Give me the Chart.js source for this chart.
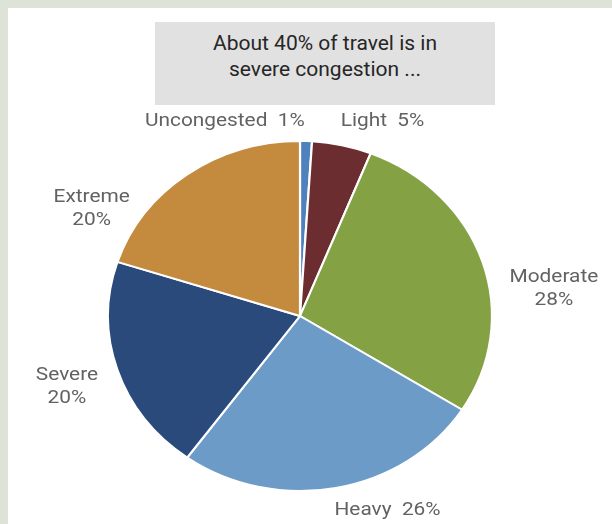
<!DOCTYPE html>
<html>
<head>
<meta charset="utf-8">
<script src="https://cdn.jsdelivr.net/npm/chart.js@4.4.1/dist/chart.umd.min.js"></script>
<style>
  html, body { margin: 0; padding: 0; width: 612px; height: 524px; overflow: hidden; background: #dde3d6; }
  #panel { position: absolute; left: 8px; top: 8px; width: 604px; height: 516px; background: #ffffff; }
  #headline { position: absolute; left: 155px; top: 22px; width: 340px; height: 83px; background: #e1e1e1; }
  #headline div { position: absolute; left: 0; top: 8px; width: 100%; text-align: center;
                  font: 21px/26px Roboto, "Liberation Sans", sans-serif; color: #262626; }
  #wrap { position: absolute; left: 0; top: 0; width: 612px; height: 524px; }
</style>
</head>
<body>
<div id="panel"></div>
<div id="headline"><div>About 40% of travel is in<br>severe congestion ...</div></div>
<div id="wrap"><canvas id="pie" width="612" height="524"></canvas></div>
<script>
// Share of travel by congestion level (percent)
const categories = ['Uncongested', 'Light', 'Moderate', 'Heavy', 'Severe', 'Extreme'];
const shares = [1, 5, 28, 26, 20, 20];

// Slice fills
const sliceColors = ['#4f81bd', '#6b2d2f', '#84a244', '#6c9bc8', '#2b4a7c', '#c48a3e'];

// Label layout: two-line labels, and pixel shift from the slice's outer midpoint
const stackedLabel = [false, false, true, false, true, true];
const labelShift = [[-74, -20], [37, -24], [65, 27], [47, 22], [-46, 17], [-87, 34]];

// Horizontal stretch of the pie (drawn as an ellipse)
const STRETCH = 1.097;

function stretchAbout(ctx, cx) {
  ctx.translate(cx, 0);
  ctx.scale(STRETCH, 1);
  ctx.translate(-cx, 0);
}

const ellipsePie = {
  id: 'ellipsePie',
  beforeDatasetsDraw(chart) {
    const arc = chart.getDatasetMeta(0).data[0];
    chart.ctx.save();
    stretchAbout(chart.ctx, arc.x);
  },
  afterDatasetsDraw(chart) {
    const ctx = chart.ctx;
    ctx.restore();

    // outside labels
    const arcs = chart.getDatasetMeta(0).data;
    ctx.save();
    stretchAbout(ctx, arcs[0].x);
    ctx.font = '19px Roboto, "Liberation Sans", sans-serif';
    ctx.fillStyle = '#626262';
    ctx.textAlign = 'center';
    ctx.textBaseline = 'middle';
    arcs.forEach((a, i) => {
      const mid = (a.startAngle + a.endAngle) / 2;
      const px = a.x + a.outerRadius * Math.cos(mid) + labelShift[i][0];
      const py = a.y + a.outerRadius * Math.sin(mid) + labelShift[i][1];
      const pct = shares[i] + '%';
      if (stackedLabel[i]) {
        ctx.fillText(categories[i], px, py - 11.5);
        ctx.fillText(pct, px, py + 11.5);
      } else {
        ctx.fillText(categories[i] + '  ' + pct, px, py);
      }
    });
    ctx.restore();
  }
};

new Chart(document.getElementById('pie'), {
  type: 'pie',
  data: {
    labels: categories,
    datasets: [{
      data: shares,
      backgroundColor: sliceColors,
      borderColor: '#ffffff',
      borderWidth: 2
    }]
  },
  options: {
    responsive: false,
    devicePixelRatio: 1,
    animation: false,
    layout: { padding: { top: 140, bottom: 32, left: 124, right: 136 } },
    plugins: {
      legend: { display: false },
      tooltip: { enabled: false },
      title: { display: false }
    }
  },
  plugins: [ellipsePie]
});
</script>
</body>
</html>
